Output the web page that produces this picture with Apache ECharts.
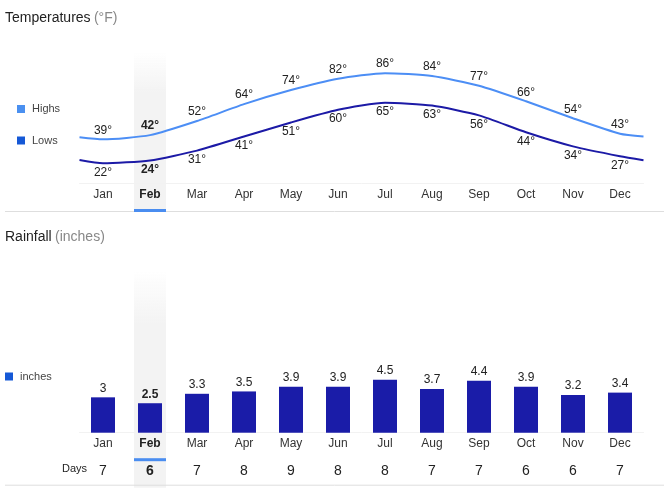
<!DOCTYPE html>
<html lang="en">
<head>
    <meta charset="utf-8">
    <title>Temperatures and Rainfall</title>
    <script src="https://cdn.jsdelivr.net/npm/echarts@6/dist/echarts.min.js"></script>
    <style>
        html, body { margin: 0; padding: 0; background: #fff; }
        #main { width: 664px; height: 491px; }
    </style>
</head>
<body>
<div id="main"></div>
<script type="text/javascript">
    // data
    var months = ['Jan', 'Feb', 'Mar', 'Apr', 'May', 'Jun', 'Jul', 'Aug', 'Sep', 'Oct', 'Nov', 'Dec'];
    var highs = [39, 42, 52, 64, 74, 82, 86, 84, 77, 66, 54, 43];
    var lows = [22, 24, 31, 41, 51, 60, 65, 63, 56, 44, 34, 27];
    // where the lines leave the plot at the left and right edge
    var highsEdge = [40.5, 41];
    var lowsEdge = [24.3, 24.2];
    var rainfall = [3, 2.5, 3.3, 3.5, 3.9, 3.9, 4.5, 3.7, 4.4, 3.9, 3.2, 3.4];
    var rainDays = [7, 6, 7, 8, 9, 8, 8, 7, 7, 6, 6, 7];
    var current = 'Feb';

    var font = 'Arial, "Liberation Sans", sans-serif';
    var bold = { fontWeight: 'bold', color: '#222', fontSize: 12, fontFamily: font };

    function lineData(values, edge) {
        var out = [[-0.5, edge[0]]];
        values.forEach(function (v, i) { out.push([i, v]); });
        out.push([values.length - 0.5, edge[1]]);
        return out;
    }
    function tempLabel(p) {
        if (p.dataIndex === 0 || p.dataIndex === months.length + 1) return '';
        var txt = p.data[1] + '°';
        return months[p.data[0]] === current ? '{b|' + txt + '}' : txt;
    }
    function monthLabel(v) {
        return v === current ? '{b|' + v + '}' : v;
    }

    var myChart = echarts.init(document.getElementById('main'));

    var option = {
        animation: false,
        textStyle: { fontFamily: font },
        legend: [
            {
                data: ['Highs', { name: 'Lows', itemStyle: { color: '#1558d6' } }],
                orient: 'vertical',
                left: 12, top: 98.5,
                itemWidth: 8, itemHeight: 8, itemGap: 20.5,
                icon: 'rect',
                textStyle: { color: '#444', fontSize: 11, fontFamily: font, padding: [0, 0, 0, 2] }
            },
            {
                data: [{ name: 'inches', itemStyle: { color: '#1558d6' } }],
                left: 0, top: 366,
                itemWidth: 8, itemHeight: 8,
                icon: 'rect',
                textStyle: { color: '#444', fontSize: 11, fontFamily: font, padding: [0, 0, 0, 2] }
            }
        ],
        grid: [
            { left: 79.5, right: 20.5, top: 52, height: 131 },
            { left: 79.5, right: 20.5, top: 270, height: 162.7 }
        ],
        xAxis: [
            {
                gridIndex: 0, type: 'category', data: months,
                axisTick: { show: false },
                axisLine: { lineStyle: { color: '#f2f2f2' } },
                axisLabel: { interval: 0, color: '#333', fontSize: 12, margin: 6, formatter: monthLabel, rich: { b: bold } }
            },
            {
                gridIndex: 0, type: 'value', min: -0.5, max: 11.5, show: false
            },
            {
                gridIndex: 1, type: 'category', data: months,
                axisTick: { show: false },
                axisLine: { lineStyle: { color: '#f2f2f2' } },
                axisLabel: { interval: 0, color: '#333', fontSize: 12, margin: 5, formatter: monthLabel, rich: { b: bold } }
            },
            {
                gridIndex: 1, type: 'category', data: months, position: 'bottom', offset: 30,
                axisTick: { show: false },
                axisLine: { show: false },
                axisLabel: {
                    interval: 0, color: '#222', fontSize: 14, margin: 1,
                    formatter: function (v, i) {
                        return v === current ? '{b|' + rainDays[i] + '}' : String(rainDays[i]);
                    },
                    rich: { b: { fontWeight: 'bold', color: '#222', fontSize: 14, fontFamily: font } }
                }
            }
        ],
        yAxis: [
            { gridIndex: 0, type: 'value', min: 8, max: 101, show: false },
            { gridIndex: 1, type: 'value', min: 0, max: 13.8, show: false }
        ],
        series: [
            {
                name: 'Highs', type: 'line', xAxisIndex: 1, yAxisIndex: 0,
                data: lineData(highs, highsEdge),
                smooth: 0.2, symbolSize: 0, showSymbol: true,
                itemStyle: { color: '#4a90f0' },
                lineStyle: { color: '#4c8ef5', width: 2 },
                label: {
                    show: true, position: 'top', distance: 3,
                    color: '#222', fontSize: 12, formatter: tempLabel, rich: { b: bold }
                },
                z: 3
            },
            {
                name: 'Lows', type: 'line', xAxisIndex: 1, yAxisIndex: 0,
                data: lineData(lows, lowsEdge),
                smooth: 0.2, symbolSize: 0, showSymbol: true,
                itemStyle: { color: '#1c1aa6' },
                lineStyle: { color: '#1c1aa6', width: 2 },
                label: {
                    show: true, position: 'bottom', distance: 3,
                    color: '#222', fontSize: 12, formatter: tempLabel, rich: { b: bold }
                },
                z: 3
            },
            {
                name: 'inches', type: 'bar', xAxisIndex: 2, yAxisIndex: 1,
                data: rainfall, barWidth: 24,
                itemStyle: { color: '#1a1ca8' },
                label: {
                    show: true, position: 'top', distance: 3,
                    color: '#222', fontSize: 12,
                    formatter: function (p) {
                        return p.name === current ? '{b|' + p.value + '}' : String(p.value);
                    },
                    rich: { b: bold }
                },
                z: 3
            }
        ]
    };

    myChart.setOption(option);

    // highlight band, underlines, titles and separators, placed from the axes
    var cx = myChart.convertToPixel({ xAxisIndex: 0 }, current);
    var bandW = 32;
    var topTemp = myChart.convertToPixel({ yAxisIndex: 0 }, 101);
    var topRain = myChart.convertToPixel({ yAxisIndex: 1 }, 13.8);
    var baseTemp = myChart.convertToPixel({ yAxisIndex: 0 }, 8);
    var baseRain = myChart.convertToPixel({ yAxisIndex: 1 }, 0);
    var fade = function () {
        return new echarts.graphic.LinearGradient(0, 0, 0, 1, [
            { offset: 0, color: 'rgba(243,243,243,0)' },
            { offset: 0.25, color: '#f3f3f3' },
            { offset: 1, color: '#f3f3f3' }
        ]);
    };

    myChart.setOption({
        graphic: [
            { type: 'rect', z: 0, shape: { x: cx - bandW / 2, y: topTemp, width: bandW, height: baseTemp - topTemp + 28 }, style: { fill: fade() } },
            { type: 'rect', z: 0, shape: { x: cx - bandW / 2, y: topRain, width: bandW, height: baseRain - topRain + 55 }, style: { fill: fade() } },
            { type: 'rect', z: 5, shape: { x: cx - bandW / 2, y: baseTemp + 26, width: bandW, height: 3 }, style: { fill: '#4a8df0' } },
            { type: 'rect', z: 5, shape: { x: cx - bandW / 2, y: baseRain + 25.5, width: bandW, height: 3 }, style: { fill: '#4a8df0' } },
            { type: 'line', z: 1, shape: { x1: 5, y1: baseTemp + 28.5, x2: 664, y2: baseTemp + 28.5 }, style: { stroke: '#dedede', lineWidth: 1 } },
            { type: 'line', z: 1, shape: { x1: 5, y1: baseRain + 52.5, x2: 664, y2: baseRain + 52.5 }, style: { stroke: '#dedede', lineWidth: 1 } },
            {
                type: 'text', left: 5, top: 11,
                style: {
                    text: '{t|Temperatures} {u|(°F)}',
                    rich: {
                        t: { fontSize: 14, fill: '#222', fontFamily: font },
                        u: { fontSize: 14, fill: '#888', fontFamily: font }
                    }
                }
            },
            {
                type: 'text', left: 5, top: 230,
                style: {
                    text: '{t|Rainfall} {u|(inches)}',
                    rich: {
                        t: { fontSize: 14, fill: '#222', fontFamily: font },
                        u: { fontSize: 14, fill: '#888', fontFamily: font }
                    }
                }
            },
            {
                type: 'text', left: 62, top: baseRain + 31,
                style: { text: 'Days', fontSize: 11, fill: '#222', fontFamily: font }
            }
        ]
    });
</script>
</body>
</html>
